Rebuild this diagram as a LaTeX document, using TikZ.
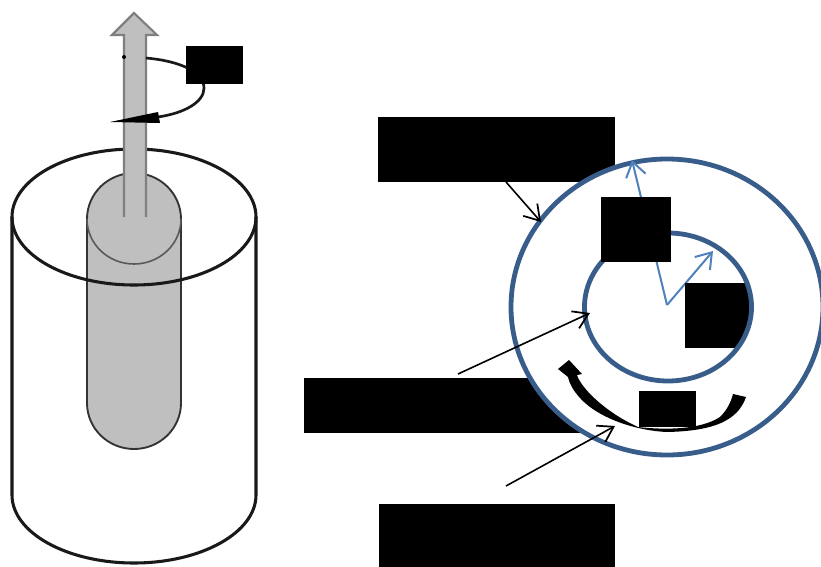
\documentclass[tikz,border=0pt]{standalone}
\usetikzlibrary{arrows.meta,calc}

\definecolor{ringblue}{HTML}{385D8A}
\definecolor{vecblue}{HTML}{4F81BD}
\definecolor{rodgray}{HTML}{BFBFBF}
\definecolor{rodedge}{HTML}{7F7F7F}

\tikzset{
    hidebox/.style 2 args={fill=black, inner sep=0pt, outer sep=0pt, minimum width=#1*0.75pt, minimum height=#2*0.75pt},
    wall/.style={line width=2.3pt, draw=black!90},
    ring/.style={line width=3.6pt, draw=ringblue},
    pointer/.style={line width=1.2pt, -{Straight Barb[length=11pt,width=14pt,line width=1.3pt]}},
    vector/.style={line width=1.5pt, draw=vecblue, -{Straight Barb[length=11pt,width=15pt,line width=1.5pt]}}
}

\begin{document}
\begin{tikzpicture}[x=0.75pt, y=-0.75pt]

    \useasboundingbox (0,0) rectangle (821,567);

    \pgfmathsetmacro{\cx}{134}
    \pgfmathsetmacro{\ox}{667}
    \pgfmathsetmacro{\oy}{307}

    % outer cylinder, sides and bottom
    \draw[wall] (12,217) -- (12,495) arc[start angle=180, end angle=0, x radius=122, y radius=68] -- (256,217);

    % inner tube
    \draw[fill=rodgray, draw=black!80, line width=1.4pt] (87,219) arc[start angle=180, end angle=360, x radius=47, y radius=46]
    -- (181,403) arc[start angle=0, end angle=180, x radius=47, y radius=46] -- cycle;
    \draw[draw=black!65, line width=1.2pt] (87,219) arc[start angle=180, end angle=0, x radius=47, y radius=45];

    % top of cylinder
    \draw[wall] (\cx,217) ellipse [x radius=122, y radius=68];

    % rod with arrow head
    \fill[rodgray] (124,217) -- (124,35) -- (112,35) -- (\cx,13) -- (157,35) -- (146,35) -- (146,217) -- cycle;
    \draw[draw=rodedge, line width=1.6pt] (124,217) -- (124,35) -- (112,35) -- (\cx,13) -- (157,35) -- (146,35) -- (146,217);

    % turning sense around the rod
    \draw[line width=2pt, draw=black!90] (146,58) .. controls (180,61) and (204,72) .. (204,88)
    .. controls (204,102) and (185,113) .. (158,117);
    \fill (110,122) -- (158,112) -- (160,123) -- cycle;
    \fill (124,57) circle (2);
    \node[hidebox={57}{38}] (spin) at (214.5,65) {};

    % labels behind the outer ring
    \node[hidebox={237}{65}] (labeltop) at (496.5,149.5) {};
    \node[hidebox={280}{55}] (labelmid) at (444,405.5) {};
    \node[hidebox={236}{63}] (labelbot) at (497,535.5) {};

    % outer ring
    \draw[ring, fill=white] (\ox,\oy) ellipse [x radius=156, y radius=148];

    % radius vectors
    \coordinate (centre) at (\ox,305);
    \coordinate (outerend) at (632,160);
    \coordinate (innerend) at (713,251);
    \draw[vector] (centre) -- (outerend);
    \draw[vector] (centre) -- (innerend);

    % label inside inner ring, then inner ring
    \begin{scope}
        \clip (668,\oy) ellipse [x radius=83.5, y radius=74];
        \node[hidebox={64}{65}] (labelin) at (717,315.5) {};
    \end{scope}
    \draw[ring] (668,\oy) ellipse [x radius=83.5, y radius=74];

    % flow arrow
    \fill (746,397) .. controls (738,420) and (715,431) .. (667,432)
    .. controls (640,431) and (600,420) .. (580,398)
    .. controls (573,390) and (570,385) .. (568,377)
    -- (558,369) -- (569,360) -- (582,374) -- (577,375)
    .. controls (581,388) and (605,412) .. (638,427)
    .. controls (665,430) and (700,430) .. (720,417)
    .. controls (727,410) and (731,402) .. (733,394) -- cycle;

    \node[hidebox={70}{65}] (labelr) at (636,229.5) {};
    \node[hidebox={57}{36}] (labelw) at (667.5,409) {};

    % pointers
    \coordinate (topfrom) at (506,182);
    \coordinate (topto) at (541,222);
    \coordinate (midfrom) at (458,374);
    \coordinate (midto) at (590,313);
    \coordinate (botfrom) at (506,486);
    \coordinate (botto) at (615,426);
    \draw[pointer] (topfrom) -- (topto);
    \draw[pointer] (midfrom) -- (midto);
    \draw[pointer] (botfrom) -- (botto);

\end{tikzpicture}
\end{document}
